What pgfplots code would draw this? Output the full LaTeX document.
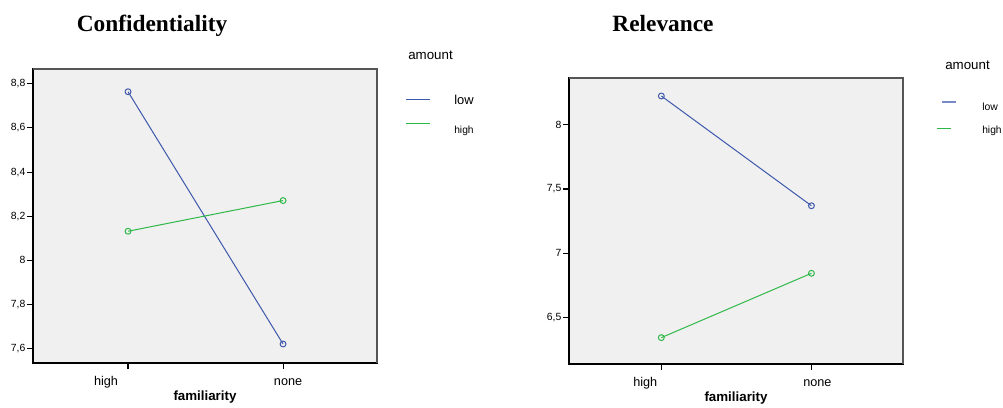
\documentclass[border=0pt]{standalone}
\usepackage{pgfplots}
\pgfplotsset{compat=1.18}
\usepackage{fontspec}
\setmainfont{Liberation Sans}
\newfontfamily\titlefont{Liberation Serif}
\definecolor{spssblue}{RGB}{62,88,172}
\definecolor{spssgreen}{RGB}{46,184,72}
\definecolor{spssbg}{RGB}{240,240,240}
\definecolor{boxgray}{RGB}{85,85,85}

\pgfplotsset{
  spss/.style={
    scale only axis,
    clip=false,
    axis background/.style={fill=spssbg},
    axis line style={black, line width=1.1pt},
    tick align=outside,
    xtick pos=bottom, ytick pos=left,
    major tick length=4.5pt,
    tick style={black, line width=0.8pt},
    xtick={0,1},
    xmin=-0.613, xmax=1.606,
    /pgf/number format/use comma,
    /pgf/number format/assume math mode=true,
    yticklabel style={font=\fontsize{7.8}{9}\selectfont, inner sep=1pt},
    xticklabel style={font=\fontsize{9.5}{11}\selectfont, yshift=-0.5pt, text height=1.6ex, text depth=0.5ex},
    xlabel={\textbf{familiarity}},
    xlabel style={font=\fontsize{10}{12}\selectfont, at={(axis description cs:0.5,0)}, anchor=center, yshift=-25.5pt},
    every axis plot/.append style={line width=0.75pt, mark=o, mark size=2.2pt, mark options={solid}},
  },
}

\begin{document}
\begin{tikzpicture}
\path[use as bounding box] (0,0) rectangle (752.25pt,305.25pt);

% Confidentiality
\begin{axis}[spss,
  at={(24.75pt,33pt)}, anchor=south west,
  width=258pt, height=220.5pt,
  ymin=7.535, ymax=8.867,
  ytick={7.6,7.8,8,8.2,8.4,8.6,8.8},
  xticklabels={high\hspace*{33pt}, \hspace*{7.5pt}none},
]
\addplot[spssblue] coordinates {(0,8.764) (1,7.621)};
\addplot[spssgreen] coordinates {(0,8.132) (1,8.271)};
\draw[boxgray, line width=1.4pt] (rel axis cs:0,1) -- (rel axis cs:1,1) -- (rel axis cs:1,0);
\end{axis}

% Relevance
\begin{axis}[spss,
  at={(426.75pt,32.25pt)}, anchor=south west,
  width=250.5pt, height=214.7pt,
  xmin=-0.615, xmax=1.61,
  ymin=6.14, ymax=8.365,
  ytick={6.5,7,7.5,8},
  xticklabels={high\hspace*{24pt}, \hspace*{9pt}none},
]
\addplot[spssblue] coordinates {(0,8.223) (1,7.370)};
\addplot[spssgreen] coordinates {(0,6.345) (1,6.845)};
\draw[boxgray, line width=1.4pt] (rel axis cs:0,1) -- (rel axis cs:1,1) -- (rel axis cs:1,0);
\end{axis}

% titles
\node[anchor=base, font=\titlefont\bfseries\fontsize{17.5}{20}\selectfont] at (114pt,281.25pt) {Confidentiality};
\node[anchor=base, font=\titlefont\bfseries\fontsize{17.5}{20}\selectfont] at (497.25pt,281.25pt) {Relevance};

% legends
\node[anchor=west, inner sep=0pt, font=\fontsize{10}{12}\selectfont] at (306pt,264pt) {amount};
\draw[spssblue, line width=0.75pt] (304.5pt,230.25pt) -- (322.5pt,230.25pt);
\node[anchor=west, inner sep=0pt, font=\fontsize{9.7}{11}\selectfont] at (340.5pt,230.25pt) {low};
\draw[spssgreen, line width=0.75pt] (304.5pt,212.25pt) -- (322.5pt,212.25pt);
\node[anchor=west, inner sep=0pt, font=\fontsize{7.7}{9}\selectfont] at (340.5pt,207pt) {high};

\node[anchor=west, inner sep=0pt, font=\fontsize{10}{12}\selectfont] at (708.75pt,256.5pt) {amount};
\draw[spssblue!70, line width=1pt] (706.5pt,228.75pt) -- (717pt,228.75pt);
\node[anchor=west, inner sep=0pt, font=\fontsize{7.8}{9}\selectfont] at (736.5pt,225pt) {low};
\draw[spssgreen, line width=0.75pt] (702.75pt,208.5pt) -- (713.25pt,208.5pt);
\node[anchor=west, inner sep=0pt, font=\fontsize{7.7}{9}\selectfont] at (736.5pt,207pt) {high};
\end{tikzpicture}
\end{document}
